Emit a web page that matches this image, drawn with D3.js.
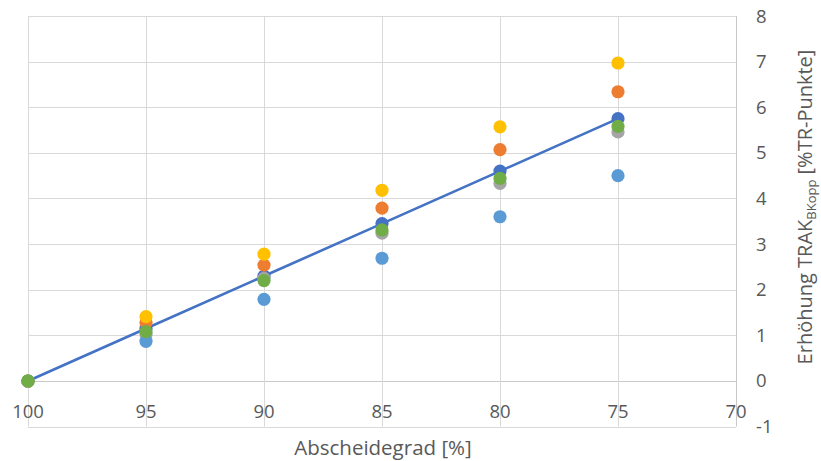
<!DOCTYPE html>
<html>
<head>
<meta charset="utf-8">
<script src="https://cdn.jsdelivr.net/npm/d3@7/dist/d3.min.js"></script>
<style>
  html, body { margin: 0; padding: 0; background: #fff; }
  svg { display: block; font-family: "Open Sans", sans-serif; }
</style>
</head>
<body>
<svg id="chart" width="821" height="461"></svg>
<script>
// Abscheidegrad categories (x) and tick values
const abscheidegrad = [100, 95, 90, 85, 80, 75];
const xTicks = [100, 95, 90, 85, 80, 75, 70];
const yTicks = [-1, 0, 1, 2, 3, 4, 5, 6, 7, 8];

// Erhöhung TRAK per series
const seriesTrend  = [0, 1.15, 2.30, 3.45, 4.60, 5.75];   // linear, drawn with line
const seriesOrange = [0, 1.28, 2.54, 3.79, 5.07, 6.34];
const seriesGray   = [0, 1.02, 2.25, 3.24, 4.33, 5.46];
const seriesYellow = [0, 1.41, 2.78, 4.18, 5.57, 6.97];
const seriesLight  = [0, 0.87, 1.79, 2.69, 3.60, 4.50];
const seriesGreen  = [0, 1.08, 2.20, 3.31, 4.44, 5.58];

const colors = {
  trend: "#4472C4", orange: "#ED7D31", gray: "#A5A5A5",
  yellow: "#FFC000", light: "#5B9BD5", green: "#70AD47"
};

const svg = d3.select("#chart");
const x = d3.scaleLinear().domain([100, 70]).range([28, 736]);
const y = d3.scaleLinear().domain([-1, 8]).range([426.6, 16]);

// grid
svg.append("g").selectAll("line.h").data(yTicks).join("line")
  .attr("x1", x(100)).attr("x2", x(70))
  .attr("y1", d => Math.round(y(d)) + 0.5).attr("y2", d => Math.round(y(d)) + 0.5)
  .attr("stroke", d => d === 0 ? "#c8c8c8" : "#d9d9d9").attr("stroke-width", 1);
svg.append("g").selectAll("line.v").data(xTicks).join("line")
  .attr("y1", y(8)).attr("y2", y(-1))
  .attr("x1", d => Math.round(x(d)) + 0.5).attr("x2", d => Math.round(x(d)) + 0.5)
  .attr("stroke", d => d === 70 ? "#c8c8c8" : "#d9d9d9").attr("stroke-width", 1);

// x tick labels (placed just below the zero line)
svg.append("g").selectAll("text").data(xTicks).join("text")
  .attr("x", d => x(d)).attr("y", y(0) + 37)
  .attr("text-anchor", "middle").attr("fill", "#595959")
  .attr("font-size", 18.5).text(d => d);

// y tick labels on the right
svg.append("g").selectAll("text").data(yTicks).join("text")
  .attr("x", 756).attr("y", d => y(d) + 6.5)
  .attr("text-anchor", "start").attr("fill", "#595959")
  .attr("font-size", 18.5).text(d => d);

// axis titles
svg.append("text").attr("x", 383).attr("y", 455)
  .attr("text-anchor", "middle").attr("fill", "#595959").attr("font-size", 20.5)
  .text("Abscheidegrad [%]");

const yTitle = svg.append("text")
  .attr("transform", "translate(812,207) rotate(-90)")
  .attr("text-anchor", "middle").attr("fill", "#595959").attr("font-size", 20);
yTitle.append("tspan").text("Erhöhung TRAK");
yTitle.append("tspan").attr("font-size", 13).attr("dy", 4).text("BKopp");
yTitle.append("tspan").attr("dy", -4).text(" [%TR-Punkte]");

// trend series line
const line = d3.line().x((d, i) => x(abscheidegrad[i])).y(d => y(d));
svg.append("path").datum(seriesTrend)
  .attr("d", line).attr("fill", "none")
  .attr("stroke", colors.trend).attr("stroke-width", 2.6);

// markers
const drawOrder = [
  [seriesTrend, colors.trend],
  [seriesOrange, colors.orange],
  [seriesGray, colors.gray],
  [seriesYellow, colors.yellow],
  [seriesLight, colors.light],
  [seriesGreen, colors.green]
];
drawOrder.forEach(([vals, col]) => {
  svg.append("g").selectAll("circle").data(vals).join("circle")
    .attr("cx", (d, i) => x(abscheidegrad[i]))
    .attr("cy", d => y(d))
    .attr("r", 6.6)
    .attr("fill", col);
});
</script>
</body>
</html>
